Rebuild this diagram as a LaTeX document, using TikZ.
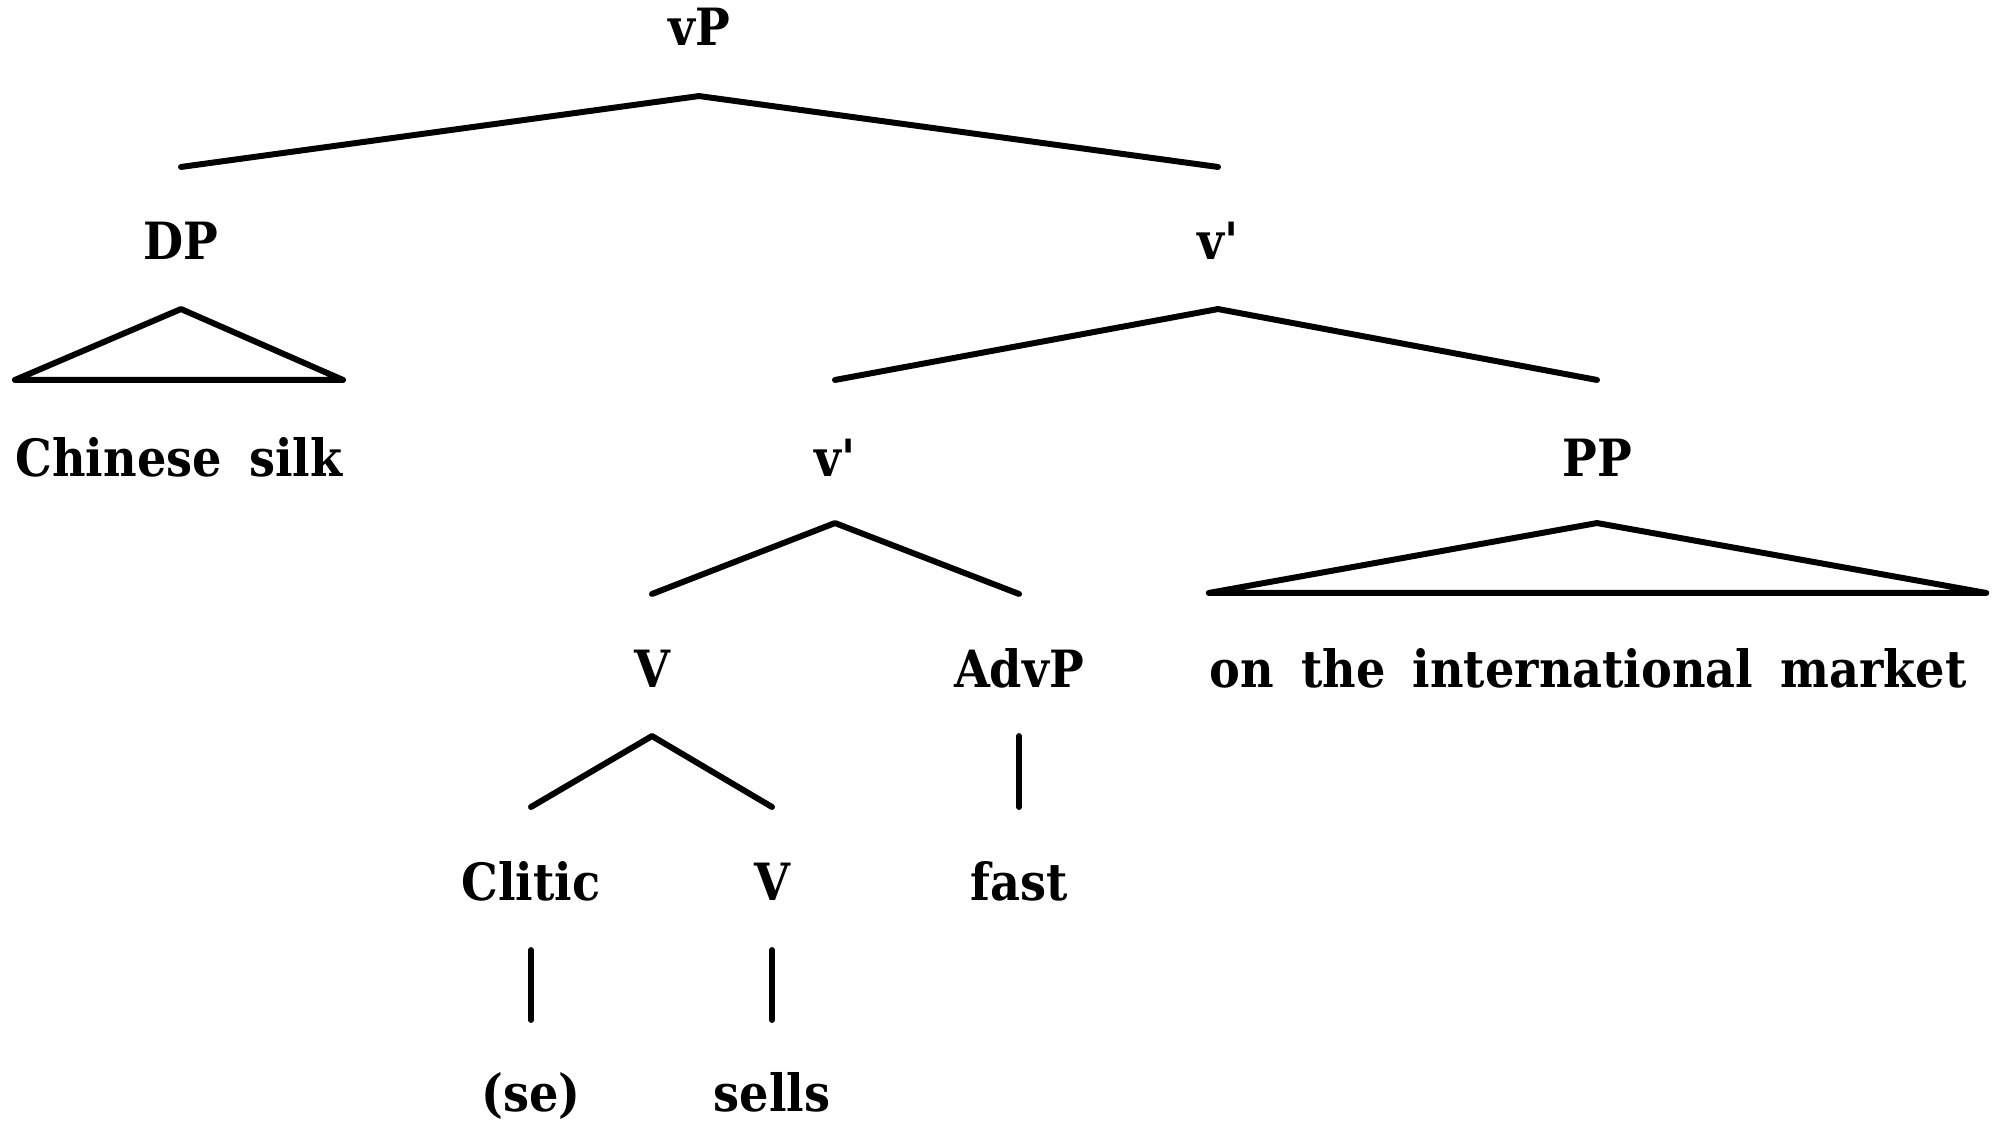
\documentclass[tikz,border=0pt]{standalone}
\usepackage{fontspec}
\setmainfont[WordSpace=1.7]{DejaVu Serif Condensed Bold}
\tikzset{
  cat/.style={anchor=base, inner sep=0pt, font=\fontsize{14.6}{17}\selectfont},
  branch/.style={line width=1.7pt, line cap=round, line join=round},
}
\begin{document}
\begin{tikzpicture}[x=0.01cm, y=-0.01cm]
\useasboundingbox (0,0) rectangle (2000,1132);
% labels, row by row
\node[cat] (vP) at (699,45) {vP};
\node[cat] (DP) at (181,259) {DP};
\node[cat] (vbarA) at (1218,259) {v\textquotesingle};
\node[cat] (silk) at (179,476) {Chinese silk};
\node[cat] (vbarB) at (835,476) {v\textquotesingle};
\node[cat] (PP) at (1597,476) {PP};
\node[cat] (Vhi) at (652,687) {V};
\node[cat] (AdvP) at (1019,687) {AdvP};
\node[cat] (market) at (1588,687) {on the international market};
\node[cat] (Clitic) at (531,900) {Clitic};
\node[cat] (Vlo) at (772,900) {V};
\node[cat] (fast) at (1019,900) {fast};
\node[cat] (se) at (531,1111) {(se)};
\node[cat] (sells) at (772,1111) {sells};
% branches
\draw[branch] ([yshift=9.2mm]DP.base) -- ([yshift=-5.1mm]vP.base) -- ([yshift=9.2mm]vbarA.base);
\draw[branch] ([yshift=-5mm]DP.base) -- ([yshift=9.6mm]silk.base west) -- ([yshift=9.6mm]silk.base east) -- cycle;
\draw[branch] ([yshift=9.6mm]vbarB.base) -- ([yshift=-5mm]vbarA.base) -- ([yshift=9.6mm]PP.base);
\draw[branch] ([yshift=9.3mm]Vhi.base) -- ([yshift=-4.7mm]vbarB.base) -- ([yshift=9.3mm]AdvP.base);
\draw[branch] ([yshift=-4.7mm]PP.base) -- ([yshift=9.4mm]market.base west) -- ([xshift=1.9mm,yshift=9.4mm]market.base east) -- cycle;
\draw[branch] ([yshift=9.3mm]Clitic.base) -- ([yshift=-4.9mm]Vhi.base) -- ([yshift=9.3mm]Vlo.base);
\draw[branch] ([yshift=-4.9mm]AdvP.base) -- ([yshift=9.3mm]fast.base);
\draw[branch] ([yshift=-5mm]Clitic.base) -- ([yshift=9.1mm]se.base);
\draw[branch] ([yshift=-5mm]Vlo.base) -- ([yshift=9.1mm]sells.base);
\end{tikzpicture}
\end{document}
